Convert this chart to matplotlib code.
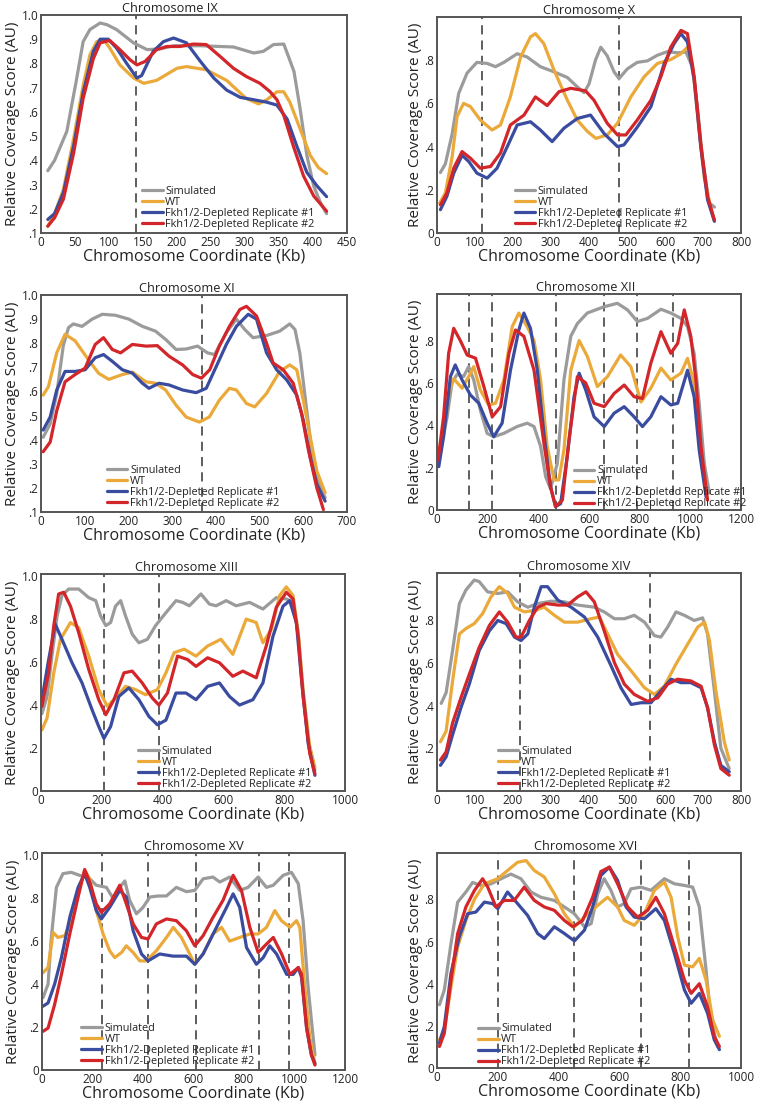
import matplotlib
matplotlib.use('Agg')
import matplotlib.pyplot as plt
import numpy as np

plt.rcParams['font.family'] = ['Open Sans', 'DejaVu Sans']

W, H = 757, 1102

series_names = ['Simulated', 'WT', 'Fkh1/2-Depleted Replicate #1', 'Fkh1/2-Depleted Replicate #2']
series_colors = ['#9b9b9b', '#eba93a', '#3a4c9f', '#d3262a']

titles = ['Chromosome IX', 'Chromosome X', 'Chromosome XI', 'Chromosome XII',
          'Chromosome XIII', 'Chromosome XIV', 'Chromosome XV', 'Chromosome XVI']

# (kb, score) pairs
ix_sim = [(10, .357), (20, .40), (38, .52), (52, .73), (62, .89), (72, .94), (87, .967), (97, .96),
          (111, .94), (136, .885), (156, .857), (175, .86), (195, .873), (234, .873), (283, .868),
          (313, .843), (327, .85), (342, .878), (357, .88), (362, .843), (372, .767), (381, .614),
          (391, .42), (401, .294), (411, .225), (420, .18)]
ix_wt = [(10, .128), (20, .18), (33, .28), (48, .49), (62, .71), (72, .836), (82, .89), (92, .90),
         (101, .864), (116, .794), (136, .74), (151, .718), (170, .73), (200, .78), (214, .787),
         (243, .774), (273, .73), (302, .655), (320, .633), (332, .65), (347, .683), (357, .683),
         (366, .64), (381, .53), (396, .42), (408, .37), (420, .345)]
ix_r1 = [(10, .156), (20, .18), (33, .267), (48, .46), (62, .68), (77, .85), (87, .90), (99, .90),
         (111, .864), (126, .80), (141, .74), (148, .75), (165, .85), (180, .89), (195, .905),
         (214, .885), (234, .81), (254, .74), (273, .69), (293, .66), (313, .65), (332, .64),
         (347, .628), (362, .57), (376, .46), (391, .35), (406, .294), (420, .25)]
ix_r2 = [(10, .128), (20, .163), (33, .24), (48, .43), (62, .656), (77, .82), (87, .885), (101, .895),
         (116, .857), (131, .815), (141, .794), (153, .808), (170, .857), (185, .87), (204, .87),
         (224, .88), (243, .878), (263, .83), (283, .78), (302, .746), (322, .718), (337, .683),
         (347, .65), (357, .586), (371, .46), (386, .336), (401, .253), (420, .19)]

x_sim = [(9, .28), (22, .32), (40, .46), (57, .646), (79, .74), (105, .79), (132, .785), (154, .77),
         (176, .79), (211, .83), (237, .815), (272, .77), (308, .746), (343, .72), (369, .677),
         (387, .65), (400, .69), (417, .80), (431, .86), (448, .82), (466, .746), (479, .715),
         (501, .76), (527, .79), (554, .797), (580, .823), (607, .84), (633, .834), (655, .838),
         (672, .77), (686, .57), (699, .34), (716, .14), (730, .12)]
x_wt = [(7, .138), (22, .185), (40, .354), (53, .54), (70, .60), (88, .585), (114, .523), (145, .477),
        (167, .50), (193, .63), (220, .815), (246, .908), (259, .923), (281, .877), (308, .754),
        (343, .615), (369, .523), (396, .47), (418, .438), (448, .454), (475, .508), (510, .63),
        (545, .723), (580, .785), (615, .803), (642, .83), (659, .86), (672, .785), (686, .54),
        (703, .26), (721, .108), (730, .06)]
x_r1 = [(9, .108), (26, .17), (44, .277), (66, .36), (84, .33), (105, .277), (132, .254), (158, .30),
        (185, .40), (211, .50), (246, .515), (272, .477), (303, .423), (334, .485), (369, .53),
        (404, .546), (440, .46), (475, .40), (492, .408), (527, .49), (563, .585), (598, .785),
        (624, .877), (642, .923), (659, .885), (677, .708), (694, .40), (712, .154), (730, .054)]
x_r2 = [(9, .13), (26, .185), (44, .30), (66, .377), (88, .346), (114, .30), (141, .308), (167, .37),
        (193, .50), (229, .546), (259, .63), (290, .59), (321, .654), (352, .67), (391, .658),
        (413, .615), (448, .508), (475, .454), (497, .454), (527, .523), (563, .615), (589, .723),
        (615, .86), (642, .938), (659, .923), (677, .723), (694, .415), (712, .17), (730, .06)]

xi_sim = [(5, .41), (21, .466), (36, .59), (51, .79), (63, .865), (74, .88), (94, .87), (117, .90),
          (140, .92), (170, .916), (201, .90), (232, .87), (262, .85), (285, .816), (309, .774),
          (332, .776), (358, .788), (381, .76), (397, .753), (424, .844), (447, .90), (466, .857),
          (485, .823), (516, .832), (546, .85), (569, .88), (581, .857), (592, .76), (608, .52),
          (623, .30), (639, .20), (650, .16)]
xi_wt = [(5, .585), (17, .62), (36, .76), (55, .837), (78, .81), (109, .73), (132, .675), (155, .65),
         (186, .67), (209, .68), (240, .64), (262, .634), (285, .606), (309, .543), (332, .494),
         (362, .473), (385, .494), (408, .564), (431, .613), (447, .606), (470, .55), (489, .536),
         (516, .592), (546, .683), (569, .71), (585, .69), (600, .564), (616, .41), (631, .27),
         (650, .18)]
xi_r1 = [(5, .44), (21, .494), (36, .606), (55, .683), (78, .683), (101, .69), (124, .74), (143, .753),
         (163, .725), (186, .69), (209, .676), (232, .634), (247, .613), (270, .634), (293, .627),
         (324, .606), (355, .595), (378, .613), (401, .704), (424, .795), (447, .87), (474, .92),
         (493, .90), (516, .76), (539, .69), (562, .648), (585, .585), (600, .48), (616, .327),
         (631, .215), (650, .145)]
xi_r2 = [(5, .35), (21, .39), (36, .52), (55, .64), (78, .67), (101, .697), (124, .795), (143, .823),
         (163, .774), (182, .76), (209, .795), (240, .788), (266, .79), (293, .746), (324, .71),
         (347, .67), (367, .655), (386, .69), (408, .788), (431, .87), (455, .94), (470, .953),
         (493, .913), (516, .80), (531, .718), (554, .69), (577, .634), (596, .51), (612, .355),
         (631, .20), (646, .11)]

xii_sim = [(4, .275), (20, .315), (40, .44), (59, .60), (79, .64), (105, .63), (125, .677), (145, .614),
           (171, .472), (198, .362), (224, .346), (264, .362), (316, .394), (356, .41), (383, .394),
           (409, .30), (429, .157), (448, .10), (475, .22), (501, .614), (528, .82), (554, .88),
           (593, .93), (660, .96), (712, .976), (752, .945), (791, .89), (831, .905), (884, .948),
           (923, .93), (963, .905), (989, .866), (1015, .74), (1035, .504), (1055, .22), (1075, .08)]
xii_wt = [(4, .236), (26, .362), (46, .55), (66, .62), (99, .575), (125, .63), (145, .677), (171, .567),
          (204, .496), (231, .504), (264, .614), (297, .866), (323, .93), (356, .866), (383, .80),
          (409, .614), (435, .30), (462, .142), (481, .142), (501, .283), (528, .66), (561, .80),
          (594, .724), (633, .583), (673, .63), (725, .732), (765, .677), (805, .51), (844, .575),
          (884, .67), (923, .614), (963, .646), (989, .716), (1015, .60), (1042, .268), (1062, .11)]
xii_r1 = [(7, .205), (26, .346), (53, .63), (72, .685), (99, .614), (132, .543), (165, .504), (198, .41),
          (224, .346), (257, .41), (290, .66), (323, .85), (343, .93), (369, .858), (396, .66),
          (422, .362), (448, .11), (468, .016), (488, .03), (514, .252), (541, .535), (561, .646),
          (587, .567), (620, .44), (660, .394), (699, .457), (739, .488), (778, .44), (811, .394),
          (844, .44), (884, .535), (923, .496), (950, .504), (989, .66), (1015, .535), (1035, .283),
          (1062, .063)]
xii_r2 = [(4, .236), (26, .44), (46, .74), (66, .858), (92, .80), (119, .732), (152, .717), (185, .583),
          (218, .44), (251, .488), (284, .74), (310, .85), (343, .82), (383, .66), (422, .315),
          (448, .11), (468, .016), (495, .047), (521, .33), (554, .63), (587, .60), (620, .504),
          (660, .488), (699, .55), (739, .59), (778, .535), (811, .527), (844, .693), (884, .842),
          (923, .74), (950, .787), (976, .945), (1002, .82), (1022, .614), (1042, .30), (1068, .047)]

xiii_sim = [(3, .36), (20, .44), (36, .63), (53, .815), (69, .91), (91, .94), (124, .94), (157, .90),
            (180, .886), (196, .815), (213, .77), (229, .784), (245, .86), (262, .886), (278, .815),
            (300, .73), (322, .69), (350, .706), (377, .77), (411, .83), (444, .886), (466, .878),
            (488, .862), (526, .917), (554, .87), (576, .862), (609, .886), (642, .862), (686, .878),
            (730, .847), (774, .90), (807, .894), (829, .878), (846, .737), (862, .47), (879, .237),
            (901, .097)]
xiii_wt = [(3, .284), (20, .34), (42, .55), (64, .706), (97, .784), (124, .76), (157, .628), (190, .472),
           (218, .394), (245, .433), (278, .487), (311, .472), (344, .448), (383, .472), (411, .55),
           (438, .644), (471, .66), (510, .628), (548, .675), (592, .706), (631, .636), (675, .80),
           (708, .784), (730, .69), (758, .753), (785, .91), (807, .95), (829, .91), (846, .737),
           (862, .47), (884, .206), (901, .11)]
xiii_r1 = [(3, .425), (25, .61), (47, .776), (69, .706), (102, .597), (135, .503), (168, .378), (190, .30),
           (207, .245), (229, .30), (256, .44), (289, .48), (322, .425), (355, .347), (383, .308),
           (411, .33), (444, .456), (477, .456), (510, .425), (548, .487), (587, .503), (620, .44),
           (653, .40), (697, .425), (730, .503), (763, .72), (796, .86), (818, .886), (840, .784),
           (857, .52), (879, .22), (901, .073)]
xiii_r2 = [(3, .394), (25, .55), (42, .77), (58, .917), (75, .925), (97, .86), (124, .737), (157, .566),
           (190, .425), (213, .355), (240, .425), (273, .55), (300, .558), (333, .503), (366, .433),
           (388, .40), (416, .456), (449, .628), (482, .612), (510, .58), (548, .62), (587, .597),
           (631, .534), (664, .558), (708, .527), (741, .675), (774, .855), (807, .925), (829, .894),
           (846, .72), (862, .44), (884, .175), (901, .08)]

xiv_sim = [(11, .41), (24, .46), (41, .657), (59, .877), (76, .94), (98, .987), (111, .98), (133, .932),
           (160, .924), (186, .932), (212, .885), (239, .86), (265, .877), (300, .888), (335, .885),
           (370, .87), (414, .86), (440, .838), (467, .806), (493, .806), (519, .822), (546, .79),
           (572, .727), (589, .72), (607, .767), (629, .838), (651, .822), (677, .798), (699, .81),
           (712, .735), (730, .468), (747, .20), (769, .105)]
xiv_wt = [(9, .23), (24, .28), (41, .515), (59, .735), (76, .76), (98, .783), (120, .83), (142, .908),
          (164, .956), (186, .924), (204, .86), (230, .838), (256, .845), (282, .86), (309, .822),
          (335, .79), (370, .79), (405, .806), (427, .814), (449, .735), (475, .64), (511, .562),
          (546, .483), (572, .452), (598, .49), (629, .594), (660, .688), (686, .767), (704, .79),
          (717, .704), (734, .468), (756, .23), (769, .145)]
xiv_r1 = [(9, .12), (24, .16), (41, .263), (63, .39), (85, .50), (111, .657), (138, .75), (160, .798),
          (182, .783), (204, .72), (221, .704), (239, .735), (256, .86), (274, .956), (291, .956),
          (318, .893), (353, .86), (388, .814), (423, .72), (458, .586), (484, .483), (511, .405),
          (537, .413), (563, .413), (589, .468), (616, .523), (642, .507), (668, .507), (695, .483),
          (712, .39), (730, .23), (747, .12), (769, .09)]
xiv_r2 = [(9, .145), (24, .183), (41, .318), (63, .436), (85, .546), (111, .672), (138, .775), (164, .838),
          (186, .79), (208, .72), (221, .72), (243, .798), (265, .86), (287, .877), (318, .87),
          (344, .87), (370, .908), (392, .932), (414, .885), (440, .75), (467, .60), (493, .50),
          (519, .452), (554, .42), (581, .436), (607, .50), (633, .523), (668, .515), (695, .49),
          (712, .39), (730, .216), (747, .105), (769, .074)]

xv_sim = [(4, .336), (24, .40), (37, .617), (57, .85), (83, .914), (116, .92), (149, .906), (189, .89),
          (215, .86), (255, .85), (281, .80), (308, .85), (328, .88), (347, .79), (374, .727),
          (400, .757), (427, .805), (460, .81), (493, .81), (532, .85), (572, .83), (605, .836),
          (638, .89), (677, .898), (704, .875), (743, .898), (783, .836), (816, .85), (856, .898),
          (889, .85), (916, .86), (955, .906), (988, .92), (1015, .867), (1034, .695), (1054, .383),
          (1081, .07)]
xv_wt = [(4, .453), (24, .477), (44, .64), (63, .617), (90, .625), (116, .695), (149, .85), (169, .93),
         (189, .89), (215, .742), (242, .633), (268, .555), (288, .523), (315, .547), (334, .578),
         (361, .547), (387, .508), (413, .508), (453, .555), (493, .617), (520, .664), (552, .617),
         (585, .54), (605, .492), (638, .54), (677, .633), (711, .664), (743, .60), (783, .617),
         (823, .633), (856, .633), (889, .664), (922, .742), (948, .695), (982, .664), (1008, .695),
         (1021, .664), (1041, .383), (1061, .148), (1081, .03)]
xv_r1 = [(4, .297), (24, .312), (50, .40), (77, .523), (110, .71), (143, .85), (169, .914), (189, .85),
         (215, .742), (235, .703), (268, .757), (308, .836), (334, .805), (361, .648), (394, .54),
         (420, .508), (466, .54), (519, .53), (572, .53), (605, .492), (638, .54), (691, .664),
         (731, .757), (757, .82), (783, .757), (810, .57), (849, .492), (876, .523), (902, .578),
         (929, .54), (969, .445), (995, .445), (1015, .477), (1028, .43), (1048, .195), (1067, .07),
         (1081, .03)]
xv_r2 = [(4, .18), (24, .195), (50, .305), (77, .445), (110, .633), (143, .805), (169, .933), (189, .875),
         (215, .773), (235, .734), (268, .773), (308, .86), (334, .773), (361, .68), (394, .617),
         (420, .61), (453, .68), (493, .703), (532, .695), (572, .648), (605, .578), (638, .625),
         (677, .71), (717, .79), (757, .906), (790, .836), (823, .664), (856, .547), (889, .586),
         (916, .617), (949, .54), (982, .445), (1015, .477), (1028, .445), (1048, .195), (1067, .07),
         (1081, .023)]

xvi_sim = [(8, .30), (24, .37), (46, .59), (68, .787), (95, .835), (117, .88), (145, .866), (178, .874),
           (211, .898), (243, .92), (276, .898), (309, .835), (342, .81), (386, .795), (419, .764),
           (452, .732), (485, .67), (507, .685), (529, .827), (550, .898), (572, .843), (594, .764),
           (616, .78), (638, .85), (671, .858), (704, .843), (748, .898), (781, .874), (814, .866),
           (841, .858), (863, .764), (885, .465), (901, .228), (923, .102)]
xvi_wt = [(8, .134), (24, .18), (46, .386), (68, .575), (95, .70), (123, .80), (156, .874), (200, .898),
          (232, .937), (265, .976), (293, .984), (320, .937), (353, .906), (386, .827), (419, .732),
          (452, .67), (485, .716), (529, .772), (561, .81), (594, .764), (616, .70), (649, .677),
          (682, .732), (715, .843), (748, .882), (770, .81), (792, .622), (814, .488), (841, .48),
          (863, .52), (885, .417), (907, .228), (929, .15)]
xvi_r1 = [(8, .118), (24, .197), (46, .45), (73, .622), (101, .732), (128, .74), (156, .787), (183, .78),
          (200, .756), (232, .835), (265, .78), (298, .724), (331, .638), (353, .614), (386, .67),
          (419, .638), (452, .603), (485, .654), (512, .764), (539, .913), (567, .953), (594, .89),
          (622, .764), (649, .716), (682, .708), (720, .756), (748, .70), (781, .543), (814, .37),
          (836, .307), (863, .354), (890, .26), (912, .134), (929, .087)]
xvi_r2 = [(8, .102), (24, .165), (46, .417), (68, .638), (95, .764), (123, .842), (150, .898), (167, .858),
          (194, .764), (221, .795), (254, .795), (287, .858), (320, .795), (353, .764), (386, .748),
          (419, .70), (447, .67), (479, .70), (512, .81), (539, .932), (567, .953), (594, .874),
          (627, .764), (660, .716), (693, .748), (720, .81), (748, .732), (781, .575), (814, .417),
          (836, .354), (863, .40), (890, .29), (912, .15), (929, .102)]

# origin boundaries (dashed lines), kb
ix_dash = [140]
x_dash = [118, 479]
xi_dash = [368]
xii_dash = [128, 218, 468, 660, 791, 930]
xiii_dash = [208, 388]
xiv_dash = [219, 560]
xv_dash = [238, 420, 610, 860, 980]
xvi_dash = [200, 450, 671, 830]

# tick values / labels
ix_xticks = [0, 50, 100, 150, 200, 250, 300, 350, 400, 450]
x_xticks = [0, 100, 200, 300, 400, 500, 600, 700, 800]
xi_xticks = [0, 100, 200, 300, 400, 500, 600, 700]
xii_xticks = [0, 200, 400, 600, 800, 1000, 1200]
xiii_xticks = [0, 200, 400, 600, 800, 1000]
xiv_xticks = [0, 100, 200, 300, 400, 500, 600, 700, 800]
xv_xticks = [0, 200, 400, 600, 800, 1000, 1200]
xvi_xticks = [0, 200, 400, 600, 800, 1000]

yt_tenths = [.1, .2, .3, .4, .5, .6, .7, .8, .9, 1.0]
yl_tenths = ['.1', '.2', '.3', '.4', '.5', '.6', '.7', '.8', '.9', '1.0']
yt_fifths = [0, .2, .4, .6, .8]
yl_fifths = ['0', '.2', '.4', '.6', '.8']
yt_full = [0, .2, .4, .6, .8, 1.0]
yl_full = ['0', '.2', '.4', '.6', '.8', '1.0']
yt_xiv = [.2, .4, .6, .8]
yl_xiv = ['.2', '.4', '.6', '.8']

panels = [
    (ix_sim, ix_wt, ix_r1, ix_r2, ix_dash, ix_xticks, yt_tenths, yl_tenths, (0.1, 1.0)),
    (x_sim, x_wt, x_r1, x_r2, x_dash, x_xticks, yt_fifths, yl_fifths, (0, 1.0)),
    (xi_sim, xi_wt, xi_r1, xi_r2, xi_dash, xi_xticks, yt_tenths, yl_tenths, (0.1, 1.0)),
    (xii_sim, xii_wt, xii_r1, xii_r2, xii_dash, xii_xticks, yt_fifths, yl_fifths, (0, 1.02)),
    (xiii_sim, xiii_wt, xiii_r1, xiii_r2, xiii_dash, xiii_xticks, yt_full, yl_full, (0, 1.01)),
    (xiv_sim, xiv_wt, xiv_r1, xiv_r2, xiv_dash, xiv_xticks, yt_xiv, yl_xiv, (0, 1.02)),
    (xv_sim, xv_wt, xv_r1, xv_r2, xv_dash, xv_xticks, yt_full, yl_full, (0, 1.01)),
    (xvi_sim, xvi_wt, xvi_r1, xvi_r2, xvi_dash, xvi_xticks, yt_fifths, yl_fifths, (0, 1.02)),
]

# axes boxes in pixels: left, top, right, bottom
boxes = [(41, 15, 347, 233), (437, 17, 741, 233),
         (41, 295, 347, 512), (437, 294, 741, 510),
         (41, 574, 345, 791), (437, 573, 741, 791),
         (42, 853, 345, 1070), (437, 853, 741, 1068)]
legend_at = [(0.33, 0.015), (0.255, 0.016), (0.215, 0.014), (0.45, 0.003),
             (0.32, 0.005), (0.20, 0.005), (0.13, 0.014), (0.135, 0.003)]
title_x = [0.42, 0.5, 0.477, 0.49, 0.48, 0.467, 0.5, 0.49]

fig = plt.figure(figsize=(W / 100, H / 100), dpi=100)

for i, p in enumerate(panels):
    sim, wt, r1, r2, dash, xt, yt, yl, ylim = p
    l, t, r, b = boxes[i]
    ax = fig.add_axes([l / W, 1 - b / H, (r - l) / W, (b - t) / H])
    for d in dash:
        ax.axvline(d, color='#333333', lw=1.1, ls=(0, (6, 4)), zorder=1)
    for data, name, c in zip([sim, wt, r1, r2], series_names, series_colors):
        arr = np.array(data)
        ax.plot(arr[:, 0], arr[:, 1], color=c, lw=2.3, label=name, zorder=2,
                solid_capstyle='round', solid_joinstyle='round')
    ax.set_xlim(0, xt[-1])
    ax.set_ylim(*ylim)
    ax.set_xticks(xt)
    ax.set_xticklabels([str(v) for v in xt])
    ax.set_yticks(yt)
    ax.set_yticklabels(yl)
    ax.tick_params(length=0, pad=2, labelsize=8.5, colors='#222222')
    for s in ax.spines.values():
        s.set_color('#555555')
        s.set_linewidth(1.4)
    ax.set_title(titles[i], fontsize=9.2, pad=2, color='#222222', x=title_x[i])
    ax.set_xlabel('Chromosome Coordinate (Kb)', fontsize=11.5, labelpad=0, color='#222222')
    ax.set_ylabel('Relative Coverage Score (AU)', fontsize=11, labelpad=1, color='#222222')
    leg = ax.legend(loc='lower left', bbox_to_anchor=legend_at[i], frameon=False, fontsize=7.8,
                    handlelength=1.9, handletextpad=0.25, labelspacing=0.0, borderpad=0,
                    borderaxespad=0)
    for txt in leg.get_texts():
        txt.set_color('#222222')

fig.savefig('out.png', dpi=100)
